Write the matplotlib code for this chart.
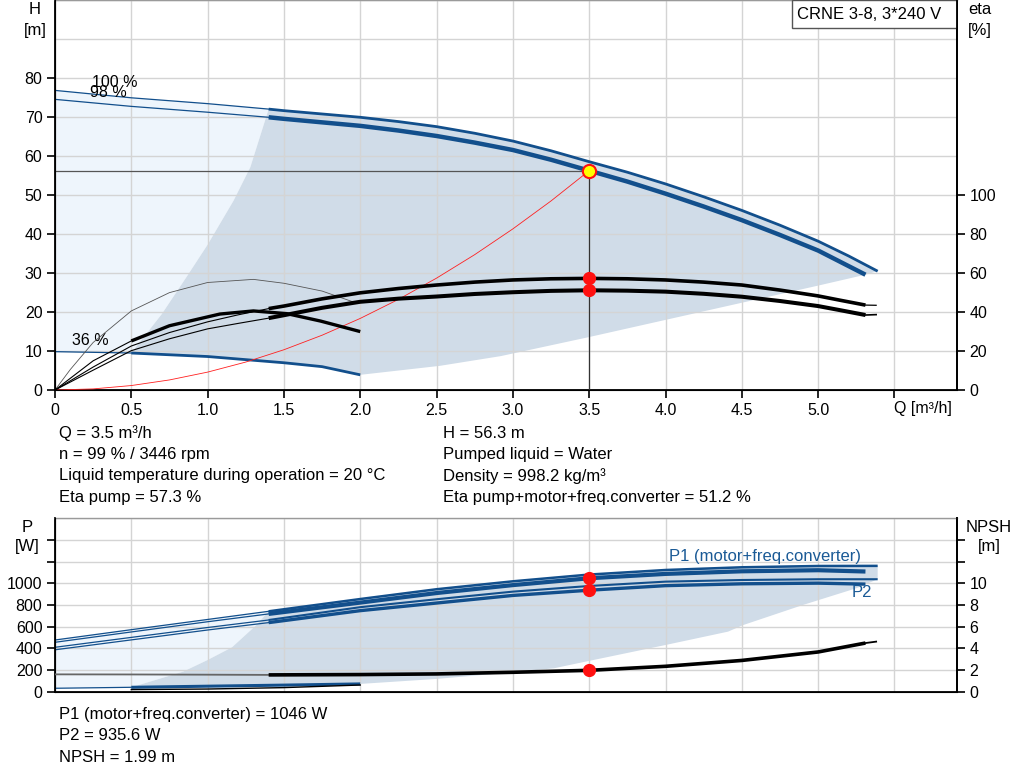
import matplotlib
matplotlib.use("Agg")
import matplotlib.pyplot as plt
import numpy as np

plt.rcParams['font.family'] = ['Liberation Sans', 'DejaVu Sans']

BLUE = '#124f8c'
DARK_FILL = '#d0dce8'
LIGHT_FILL = '#eef5fc'
GRID = '#d4d4d4'

# ---- head curves [m] vs flow [m3/h] ----
q_h100 = [0, 0.5, 1.0, 1.4, 1.5, 2.0, 2.25, 2.5, 2.75, 3.0, 3.25, 3.5, 3.75, 4.0,
          4.25, 4.5, 4.75, 5.0, 5.2, 5.39]
h_100 = [76.9, 75.0, 73.5, 72.1, 71.7, 70.0, 68.9, 67.6, 65.9, 63.9, 61.4, 58.6, 55.9, 52.9,
         49.6, 46.1, 42.3, 38.2, 34.4, 30.5]
q_h98 = [0, 0.5, 1.0, 1.4, 1.5, 2.0, 2.25, 2.5, 2.75, 3.0, 3.25, 3.5, 3.75, 4.0,
         4.25, 4.5, 4.75, 5.0, 5.15, 5.31]
h_98 = [74.6, 72.8, 71.3, 70.0, 69.6, 67.8, 66.6, 65.2, 63.5, 61.6, 59.1, 56.3, 53.5, 50.4,
        47.1, 43.6, 39.8, 35.8, 32.8, 29.6]
q_h36 = [0, 0.5, 1.0, 1.5, 1.75, 2.0]
h_36 = [9.85, 9.5, 8.6, 7.0, 6.0, 3.9]

# operating range boundaries (head)
q_left = [0.5, 0.6, 0.7, 0.86, 1.0, 1.17, 1.28, 1.4]
h_left = [9.5, 14.5, 19.5, 28.9, 37.3, 48.6, 57.2, 72.1]
q_low = [2.0, 2.52, 2.92, 3.5, 4.0, 4.5, 5.0, 5.31, 5.39]
h_low = [3.9, 6.2, 8.7, 13.6, 18.0, 22.4, 26.8, 29.6, 30.5]

# system curve
q_sys = [0, 0.25, 0.5, 0.75, 1.0, 1.25, 1.5, 1.75, 2.0, 2.25, 2.5, 2.75, 3.0, 3.25, 3.5]
h_sys = [0, 0.29, 1.15, 2.59, 4.6, 7.18, 10.34, 14.07, 18.38, 23.26, 28.72, 34.75, 41.36, 48.53, 56.3]

# ---- efficiency [%] ----
q_eta = [0, 0.25, 0.5, 0.75, 1.0, 1.2, 1.4, 1.5, 1.75, 2.0, 2.25, 2.5, 2.75, 3.0, 3.25,
         3.5, 3.75, 4.0, 4.25, 4.5, 4.75, 5.0, 5.15, 5.31]
eta_pump = [0, 11.8, 22.6, 29.5, 35.0, 38.6, 41.8, 43.1, 46.8, 49.9, 52.1, 53.9, 55.4, 56.5, 57.1,
            57.3, 57.1, 56.5, 55.4, 53.9, 51.3, 48.3, 46.0, 43.6]
eta_total = [0, 10.2, 20.2, 26.3, 31.4, 34.2, 36.9, 38.4, 42.2, 45.3, 46.9, 48.0, 49.3, 50.2, 50.9,
             51.2, 51.0, 50.5, 49.4, 47.9, 45.7, 43.1, 40.9, 38.5]
q_eta_ext = [5.31, 5.38]
eta_pump_ext = [43.6, 43.5]
eta_total_ext = [38.5, 38.7]
q_eta36p = [0, 0.1, 0.25, 0.5, 0.75, 1.0, 1.3, 1.5, 1.75, 1.97]
eta36_pump = [0, 10.5, 24.4, 40.6, 50.0, 55.2, 56.8, 54.8, 50.8, 44.8]
q_eta36t = [0, 0.25, 0.5, 0.75, 1.08, 1.3, 1.52, 1.74, 2.0]
eta36_total = [0, 15.0, 25.2, 33.0, 39.0, 40.6, 39.2, 35.4, 30.0]

# ---- power [W] and NPSH [m] ----
q_p100 = [0, 0.5, 1.0, 1.4, 2.0, 2.5, 3.0, 3.5, 4.0, 4.5, 5.0, 5.39]
p1_100 = [478, 573, 667, 742, 855, 945, 1018, 1080, 1122, 1147, 1159, 1160]
p2_100 = [411, 502, 593, 662, 780, 853, 923, 975, 1015, 1030, 1037, 1037]
q_p98 = [0, 0.5, 1.0, 1.4, 2.0, 2.5, 3.0, 3.5, 4.0, 4.5, 5.0, 5.31]
p1_98 = [457, 552, 646, 718, 822, 910, 983, 1046, 1086, 1110, 1120, 1108]
p2_98 = [388, 479, 570, 638, 748, 818, 888, 936, 978, 995, 1001, 992]
q_pmin = [0, 0.5, 1.0, 1.5, 2.0]
p1_min = [34, 43, 53, 63, 74]
q_p2min = [0.5, 1.0, 1.5, 2.0]
p2_min = [22, 27, 40, 64]
q_pleft = [0.5, 0.84, 1.0, 1.16, 1.32, 1.4]
p_left = [43, 187, 294, 411, 616, 742]
q_plow = [2.0, 2.5, 3.0, 3.27, 3.5, 4.0, 4.41, 4.51, 4.9, 5.25, 5.39]
p_low = [74, 120, 181, 218, 286, 432, 555, 616, 800, 954, 1037]
q_npsh = [0, 0.5, 1.0, 1.4, 2.0, 2.5, 3.0, 3.5, 4.0, 4.5, 5.0, 5.31]
npsh = [1.62, 1.61, 1.59, 1.57, 1.6, 1.66, 1.81, 1.99, 2.36, 2.9, 3.68, 4.5]
q_npsh_ext = [5.31, 5.38]
npsh_ext = [4.5, 4.63]

# duty point
Q_duty, H_duty = 3.5, 56.3
ETA_P, ETA_T = 57.3, 51.2
P1_duty, P2_duty, NPSH_duty = 1046, 935.6, 1.99

x_ticks = [0, 0.5, 1.0, 1.5, 2.0, 2.5, 3.0, 3.5, 4.0, 4.5, 5.0, 5.5]
x_labels = ['0', '0.5', '1.0', '1.5', '2.0', '2.5', '3.0', '3.5', '4.0', '4.5', '5.0', '']

TICK_FS = 11.5
TEXT_FS = 12


def two_part(a, q, v, cut, color, lw1, lw2, c1=None):
    q = np.asarray(q, float)
    v = np.asarray(v, float)
    m1, m2 = q <= cut, q >= cut
    a.plot(q[m1], v[m1], color=c1 or color, lw=lw1, zorder=3)
    a.plot(q[m2], v[m2], color=color, lw=lw2, zorder=3, solid_capstyle='butt')


def style(a, right):
    for s in ['left', 'bottom', 'right']:
        a.spines[s].set_linewidth(1.3)
        a.spines[s].set_color('black')
    a.spines['top'].set_color('#9a9a9a')
    a.spines['top'].set_linewidth(1.0)
    right.spines['top'].set_visible(False)
    right.spines['right'].set_linewidth(1.3)
    a.grid(True, which='both', color=GRID, lw=1.0)
    a.set_axisbelow('line')
    a.set_xlim(0, 5.91)
    a.set_xticks(x_ticks)
    a.tick_params(labelsize=TICK_FS, length=6, width=1.2, pad=3)
    a.tick_params(which='minor', length=0)
    right.tick_params(labelsize=TICK_FS, length=6, width=1.2, pad=3)


fig = plt.figure(figsize=(10.24, 7.81), dpi=100)

# ================= top chart =================
ax = fig.add_axes([0.0537, 0.5006, 0.8809, 0.4989])
axe = ax.twinx()
ax.set_ylim(0, 100)
ax.set_yticks(range(0, 81, 10))
ax.set_yticks([90, 100], minor=True)
style(ax, axe)
ax.set_xticklabels(x_labels)
axe.set_ylim(0, 200)
axe.set_yticks(range(0, 101, 20))

qa, ha = np.array(q_h100), np.array(h_100)
q3, h3 = np.array(q_h36), np.array(h_36)
# light region
lq = np.concatenate([qa[qa <= 1.4], q_left[::-1], q3[q3 <= 0.5][::-1]])
lh = np.concatenate([ha[qa <= 1.4], h_left[::-1], h3[q3 <= 0.5][::-1]])
ax.fill(lq, lh, color=LIGHT_FILL, lw=0, zorder=1)
# operating region
dq = np.concatenate([q_left, qa[qa > 1.4], q_low[::-1], q3[q3 >= 0.5][::-1]])
dh = np.concatenate([h_left, ha[qa > 1.4], h_low[::-1], h3[q3 >= 0.5][::-1]])
ax.fill(dq, dh, color=DARK_FILL, lw=0, zorder=1)

two_part(ax, q_h100, h_100, 1.4, BLUE, 0.9, 2.0)
two_part(ax, q_h98, h_98, 1.4, BLUE, 0.9, 3.2)
two_part(ax, q_h36, h_36, 0.5, BLUE, 0.9, 2.0)

ax.plot(q_sys, h_sys, color='#ff2020', lw=0.6, zorder=3)
ax.plot([0, Q_duty], [H_duty, H_duty], color='#555555', lw=0.9, zorder=3)
ax.plot([Q_duty, Q_duty], [0, H_duty], color='#333333', lw=0.9, zorder=3)
ax.plot([Q_duty], [H_duty], 'o', ms=9.5, mfc='#ffff00', mec='#ff1010', mew=1.5, zorder=6)

two_part(axe, q_eta, eta_pump, 1.4, 'black', 0.8, 2.6)
two_part(axe, q_eta, eta_total, 1.4, 'black', 0.8, 2.9)
axe.plot(q_eta_ext, eta_pump_ext, color='black', lw=0.9)
axe.plot(q_eta_ext, eta_total_ext, color='black', lw=1.2)
axe.plot(q_eta36p, eta36_pump, color='#555555', lw=0.6)
two_part(axe, q_eta36t, eta36_total, 0.5, 'black', 0.8, 2.4)
axe.plot([Q_duty, Q_duty], [ETA_P, ETA_T], 'o', ms=8.5, color='#ff1010', zorder=6)

ax.text(0.24, 79.0, '100 %', fontsize=TICK_FS, va='center')
ax.text(0.23, 76.4, '98 %', fontsize=TICK_FS, va='center')
ax.text(0.11, 12.7, '36 %', fontsize=TICK_FS, va='center')
ax.text(5.5, -4.8, 'Q [m³/h]', fontsize=TICK_FS, va='center', ha='left')

ax.add_patch(plt.Rectangle((0.817, 0.928), 0.183, 0.072, transform=ax.transAxes,
                           fc='white', ec='#555555', lw=1.0, zorder=7))
ax.text(0.823, 0.964, 'CRNE 3-8, 3*240 V', transform=ax.transAxes, fontsize=TEXT_FS,
        va='center', zorder=8)

# ================= bottom chart =================
bx = fig.add_axes([0.0537, 0.1140, 0.8809, 0.2227])
bxn = bx.twinx()
bx.set_ylim(0, 1600)
bx.set_yticks(range(0, 1401, 200))
bx.set_yticks([1600], minor=True)
style(bx, bxn)
bx.set_yticklabels([str(v) for v in range(0, 1001, 200)] + ['', ''])
bx.set_xticklabels([])
bx.tick_params(axis='x', length=0)
bxn.set_ylim(0, 16)
bxn.set_yticks(range(0, 15, 2))
bxn.set_yticklabels([str(v) for v in range(0, 11, 2)] + ['', ''])

pq, pv = np.array(q_p100), np.array(p1_100)
mq, mv = np.array(q_pmin), np.array(p1_min)
lq = np.concatenate([pq[pq <= 1.4], q_pleft[::-1], mq[mq <= 0.5][::-1]])
lp = np.concatenate([pv[pq <= 1.4], p_left[::-1], mv[mq <= 0.5][::-1]])
bx.fill(lq, lp, color=LIGHT_FILL, lw=0, zorder=1)
dq = np.concatenate([q_pleft, pq[pq > 1.4], q_plow[::-1], mq[mq >= 0.5][::-1]])
dp = np.concatenate([p_left, pv[pq > 1.4], p_low[::-1], mv[mq >= 0.5][::-1]])
bx.fill(dq, dp, color=DARK_FILL, lw=0, zorder=1)

two_part(bx, q_p100, p1_100, 1.4, BLUE, 0.9, 1.8)
two_part(bx, q_p98, p1_98, 1.4, BLUE, 0.9, 3.0)
two_part(bx, q_p100, p2_100, 1.4, BLUE, 0.9, 1.5)
two_part(bx, q_p98, p2_98, 1.4, BLUE, 0.9, 2.4)
two_part(bx, q_pmin, p1_min, 0.5, BLUE, 0.9, 2.2)
bx.plot(q_p2min, p2_min, color='black', lw=1.0, zorder=3)
bx.plot([Q_duty, Q_duty], [P1_duty, P2_duty], 'o', ms=8.5, color='#ff1010', zorder=6)

two_part(bxn, q_npsh, npsh, 1.4, 'black', 1.3, 2.6, c1='#666666')
bxn.plot(q_npsh_ext, npsh_ext, color='black', lw=1.3)
bxn.plot([Q_duty], [NPSH_duty], 'o', ms=8.5, color='#ff1010', zorder=6)

bx.text(4.02, 1250, 'P1 (motor+freq.converter)', color='#1a5a96', fontsize=TEXT_FS, va='center')
bx.text(5.22, 915, 'P2', color='#1a5a96', fontsize=TEXT_FS, va='center')


# ---- axis captions ----
def ftxt(x, y, s, **kw):
    fig.text(x / 1024, 1 - y / 781, s, fontsize=TEXT_FS, va='center', **kw)


ftxt(35, 9, 'H', ha='center')
ftxt(35, 30, '[m]', ha='center')
ftxt(980, 10, 'eta', ha='center')
ftxt(980, 30, '[%]', ha='center')
ftxt(27, 527, 'P', ha='center')
ftxt(27, 547, '[W]', ha='center')
ftxt(989, 527, 'NPSH', ha='center')
ftxt(989, 547, '[m]', ha='center')

# ---- result texts ----
left_info = ['Q = 3.5 m³/h', 'n = 99 % / 3446 rpm',
             'Liquid temperature during operation = 20 °C', 'Eta pump = 57.3 %']
right_info = ['H = 56.3 m', 'Pumped liquid = Water', 'Density = 998.2 kg/m³',
              'Eta pump+motor+freq.converter = 51.2 %']
bottom_info = ['P1 (motor+freq.converter) = 1046 W', 'P2 = 935.6 W', 'NPSH = 1.99 m']
for i, s in enumerate(left_info):
    ftxt(59, 433 + i * 21.5, s)
for i, s in enumerate(right_info):
    ftxt(443, 433 + i * 21.5, s)
for i, s in enumerate(bottom_info):
    ftxt(59, 714 + i * 21.5, s)

fig.savefig('out.png', dpi=100)
